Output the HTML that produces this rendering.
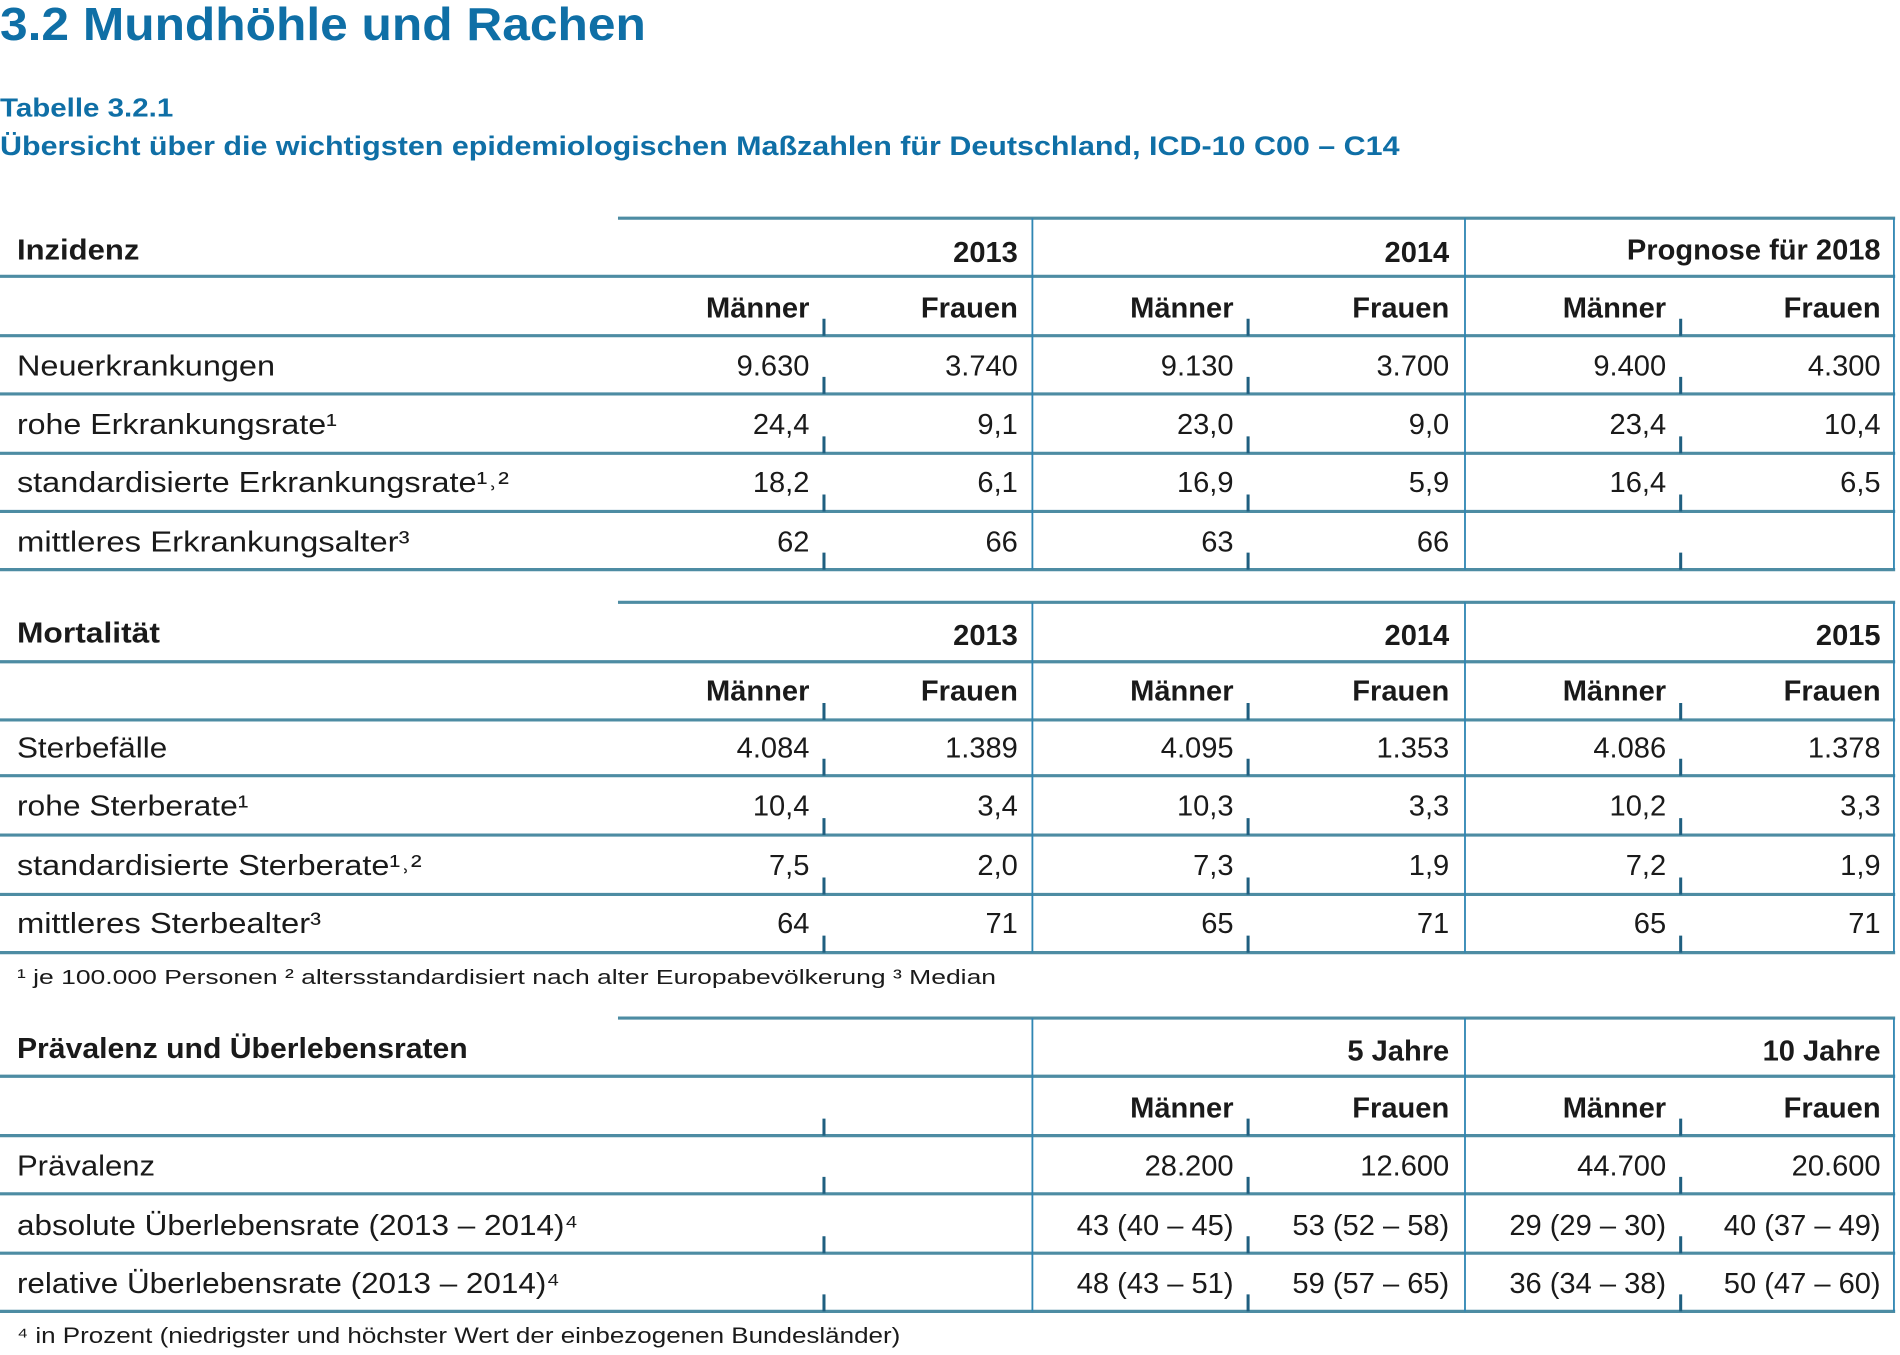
<!DOCTYPE html>
<html><head><meta charset="utf-8"><style>
html,body{margin:0;padding:0;background:#fff;}
svg{display:block;}
text{font-family:"Liberation Sans",sans-serif;fill:#1a1a1a;}
.b{font-weight:bold;}
.n{font-size:24px;text-anchor:end;}
.h{font-size:24px;font-weight:bold;text-anchor:end;}
.l{font-size:24px;}
.blue{fill:#0f6fa6;font-weight:bold;}
</style></head><body>
<svg width="1900" height="1355" viewBox="0 0 1568 1118" preserveAspectRatio="none" xmlns="http://www.w3.org/2000/svg">
<rect width="1568" height="1118" fill="#fff"/>
<text x="0" y="33" class="blue" font-size="38" textLength="533" lengthAdjust="spacingAndGlyphs">3.2 Mundhöhle und Rachen</text>
<text x="0" y="96" class="blue" font-size="21" textLength="143" lengthAdjust="spacingAndGlyphs">Tabelle 3.2.1</text>
<text x="0" y="128" class="blue" font-size="22" textLength="1155" lengthAdjust="spacingAndGlyphs">Übersicht über die wichtigsten epidemiologischen Maßzahlen für Deutschland, ICD-10 C00 – C14</text>

<g stroke="#4d8ca3" stroke-width="2.6" fill="none">
<!-- table 1 -->
<line x1="510" y1="180" x2="1564" y2="180"/>
<line x1="0" y1="228" x2="1564" y2="228"/>
<line x1="0" y1="277" x2="1564" y2="277"/>
<line x1="0" y1="325" x2="1564" y2="325"/>
<line x1="0" y1="374" x2="1564" y2="374"/>
<line x1="0" y1="422" x2="1564" y2="422"/>
<line x1="0" y1="470" x2="1564" y2="470"/>
<!-- table 2 -->
<line x1="510" y1="497" x2="1564" y2="497"/>
<line x1="0" y1="546" x2="1564" y2="546"/>
<line x1="0" y1="594" x2="1564" y2="594"/>
<line x1="0" y1="640" x2="1564" y2="640"/>
<line x1="0" y1="689" x2="1564" y2="689"/>
<line x1="0" y1="738" x2="1564" y2="738"/>
<line x1="0" y1="786" x2="1564" y2="786"/>
<!-- table 3 -->
<line x1="510" y1="840" x2="1564" y2="840"/>
<line x1="0" y1="888" x2="1564" y2="888"/>
<line x1="0" y1="937" x2="1564" y2="937"/>
<line x1="0" y1="985" x2="1564" y2="985"/>
<line x1="0" y1="1034" x2="1564" y2="1034"/>
<line x1="0" y1="1082" x2="1564" y2="1082"/>
</g>
<g stroke="#2f86b3" stroke-width="1.5">
<line x1="852" y1="180" x2="852" y2="470"/><line x1="1209" y1="180" x2="1209" y2="470"/><line x1="1563" y1="180" x2="1563" y2="470"/>
<line x1="852" y1="497" x2="852" y2="786"/><line x1="1209" y1="497" x2="1209" y2="786"/><line x1="1563" y1="497" x2="1563" y2="786"/>
<line x1="852" y1="840" x2="852" y2="1082"/><line x1="1209" y1="840" x2="1209" y2="1082"/><line x1="1563" y1="840" x2="1563" y2="1082"/>
</g>
<g stroke="#1f5f80" stroke-width="2.5">
<!-- ticks table 1 -->
<path d="M680 263V277M1030 263V277M1387 263V277 M680 311V325M1030 311V325M1387 311V325 M680 360V374M1030 360V374M1387 360V374 M680 408V422M1030 408V422M1387 408V422 M680 456V470M1030 456V470M1387 456V470"/>
<path d="M680 580V594M1030 580V594M1387 580V594 M680 626V640M1030 626V640M1387 626V640 M680 675V689M1030 675V689M1387 675V689 M680 724V738M1030 724V738M1387 724V738 M680 772V786M1030 772V786M1387 772V786"/>
<path d="M680 923V937M1030 923V937M1387 923V937 M680 971V985M1030 971V985M1387 971V985 M680 1020V1034M1030 1020V1034M1387 1020V1034 M680 1068V1082M1030 1068V1082M1387 1068V1082"/>
</g>

<!-- Table 1 -->
<text x="14" y="214" class="l b" textLength="101" lengthAdjust="spacingAndGlyphs">Inzidenz</text>
<text x="840" y="216" class="h">2013</text><text x="1196" y="216" class="h">2014</text><text x="1552" y="214" class="h">Prognose für 2018</text>
<g class="h"><text x="668" y="262" class="h">Männer</text><text x="840" y="262" class="h">Frauen</text><text x="1018" y="262" class="h">Männer</text><text x="1196" y="262" class="h">Frauen</text><text x="1375" y="262" class="h">Männer</text><text x="1552" y="262" class="h">Frauen</text></g>
<text x="14" y="310" class="l" textLength="213" lengthAdjust="spacingAndGlyphs">Neuerkrankungen</text>
<text x="668" y="310" class="n">9.630</text><text x="840" y="310" class="n">3.740</text><text x="1018" y="310" class="n">9.130</text><text x="1196" y="310" class="n">3.700</text><text x="1375" y="310" class="n">9.400</text><text x="1552" y="310" class="n">4.300</text>
<text x="14" y="358" class="l" textLength="264" lengthAdjust="spacingAndGlyphs">rohe Erkrankungsrate¹</text>
<text x="668" y="358" class="n">24,4</text><text x="840" y="358" class="n">9,1</text><text x="1018" y="358" class="n">23,0</text><text x="1196" y="358" class="n">9,0</text><text x="1375" y="358" class="n">23,4</text><text x="1552" y="358" class="n">10,4</text>
<text x="14" y="406" class="l" textLength="406" lengthAdjust="spacingAndGlyphs">standardisierte Erkrankungsrate¹˒²</text>
<text x="668" y="406" class="n">18,2</text><text x="840" y="406" class="n">6,1</text><text x="1018" y="406" class="n">16,9</text><text x="1196" y="406" class="n">5,9</text><text x="1375" y="406" class="n">16,4</text><text x="1552" y="406" class="n">6,5</text>
<text x="14" y="455" class="l" textLength="324" lengthAdjust="spacingAndGlyphs">mittleres Erkrankungsalter³</text>
<text x="668" y="455" class="n">62</text><text x="840" y="455" class="n">66</text><text x="1018" y="455" class="n">63</text><text x="1196" y="455" class="n">66</text>

<!-- Table 2 -->
<text x="14" y="530" class="l b" textLength="118" lengthAdjust="spacingAndGlyphs">Mortalität</text>
<text x="840" y="532" class="h">2013</text><text x="1196" y="532" class="h">2014</text><text x="1552" y="532" class="h">2015</text>
<text x="668" y="578" class="h">Männer</text><text x="840" y="578" class="h">Frauen</text><text x="1018" y="578" class="h">Männer</text><text x="1196" y="578" class="h">Frauen</text><text x="1375" y="578" class="h">Männer</text><text x="1552" y="578" class="h">Frauen</text>
<text x="14" y="625" class="l" textLength="124" lengthAdjust="spacingAndGlyphs">Sterbefälle</text>
<text x="668" y="625" class="n">4.084</text><text x="840" y="625" class="n">1.389</text><text x="1018" y="625" class="n">4.095</text><text x="1196" y="625" class="n">1.353</text><text x="1375" y="625" class="n">4.086</text><text x="1552" y="625" class="n">1.378</text>
<text x="14" y="673" class="l" textLength="191" lengthAdjust="spacingAndGlyphs">rohe Sterberate¹</text>
<text x="668" y="673" class="n">10,4</text><text x="840" y="673" class="n">3,4</text><text x="1018" y="673" class="n">10,3</text><text x="1196" y="673" class="n">3,3</text><text x="1375" y="673" class="n">10,2</text><text x="1552" y="673" class="n">3,3</text>
<text x="14" y="722" class="l" textLength="334" lengthAdjust="spacingAndGlyphs">standardisierte Sterberate¹˒²</text>
<text x="668" y="722" class="n">7,5</text><text x="840" y="722" class="n">2,0</text><text x="1018" y="722" class="n">7,3</text><text x="1196" y="722" class="n">1,9</text><text x="1375" y="722" class="n">7,2</text><text x="1552" y="722" class="n">1,9</text>
<text x="14" y="770" class="l" textLength="251" lengthAdjust="spacingAndGlyphs">mittleres Sterbealter³</text>
<text x="668" y="770" class="n">64</text><text x="840" y="770" class="n">71</text><text x="1018" y="770" class="n">65</text><text x="1196" y="770" class="n">71</text><text x="1375" y="770" class="n">65</text><text x="1552" y="770" class="n">71</text>
<text x="14" y="812" font-size="17" textLength="808" lengthAdjust="spacingAndGlyphs">¹ je 100.000 Personen  ² altersstandardisiert nach alter Europabevölkerung  ³ Median</text>

<!-- Table 3 -->
<text x="14" y="873" class="l b" textLength="372" lengthAdjust="spacingAndGlyphs">Prävalenz und Überlebensraten</text>
<text x="1196" y="875" class="h">5 Jahre</text><text x="1552" y="875" class="h">10 Jahre</text>
<text x="1018" y="922" class="h">Männer</text><text x="1196" y="922" class="h">Frauen</text><text x="1375" y="922" class="h">Männer</text><text x="1552" y="922" class="h">Frauen</text>
<text x="14" y="970" class="l" textLength="114" lengthAdjust="spacingAndGlyphs">Prävalenz</text>
<text x="1018" y="970" class="n">28.200</text><text x="1196" y="970" class="n">12.600</text><text x="1375" y="970" class="n">44.700</text><text x="1552" y="970" class="n">20.600</text>
<text x="14" y="1019" class="l" textLength="463" lengthAdjust="spacingAndGlyphs">absolute Überlebensrate (2013 – 2014)⁴</text>
<text x="1018" y="1019" class="n">43 (40 – 45)</text><text x="1196" y="1019" class="n">53 (52 – 58)</text><text x="1375" y="1019" class="n">29 (29 – 30)</text><text x="1552" y="1019" class="n">40 (37 – 49)</text>
<text x="14" y="1067" class="l" textLength="448" lengthAdjust="spacingAndGlyphs">relative Überlebensrate (2013 – 2014)⁴</text>
<text x="1018" y="1067" class="n">48 (43 – 51)</text><text x="1196" y="1067" class="n">59 (57 – 65)</text><text x="1375" y="1067" class="n">36 (34 – 38)</text><text x="1552" y="1067" class="n">50 (47 – 60)</text>
<text x="14" y="1108" font-size="18" textLength="729" lengthAdjust="spacingAndGlyphs">⁴ in Prozent (niedrigster und höchster Wert der einbezogenen Bundesländer)</text>
</svg>
</body></html>
